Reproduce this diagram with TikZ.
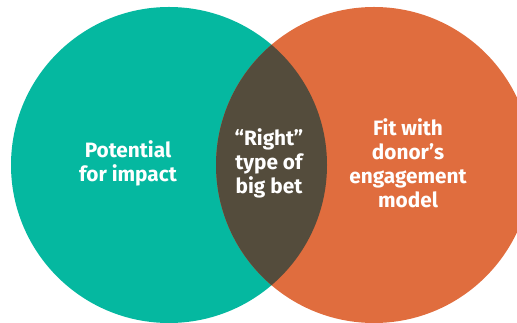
\documentclass[tikz,border=0pt]{standalone}
\usepackage{fontspec}
\setmainfont{Fira Sans}
\definecolor{teal}{HTML}{05B8A0}
\definecolor{orng}{HTML}{E06D3E}
\definecolor{dark}{HTML}{544C3C}
\begin{document}
\begin{tikzpicture}[x=1pt,y=1pt,
  lbl/.style={text=white,align=center,inner sep=0pt,font=\fontsize{20.8}{24}\selectfont\bfseries}]
\useasboundingbox (0,0) rectangle (517,323);
\begin{scope}
\clip (0,0) rectangle (517,323);
\fill[teal] (169,158) circle (158);
\fill[orng] (374,158) circle (158);
\begin{scope}
\clip (169,158) circle (158);
\fill[dark] (374,158) circle (158);
\end{scope}
\end{scope}
\node[lbl] (left) at (128,160) {Potential\\for impact};
\node[lbl] (mid) at (269,160) {“Right”\\type of\\big bet};
\node[lbl] (right) at (408,160) {Fit with\\donor’s\\engagement\\model};
\end{tikzpicture}
\end{document}
